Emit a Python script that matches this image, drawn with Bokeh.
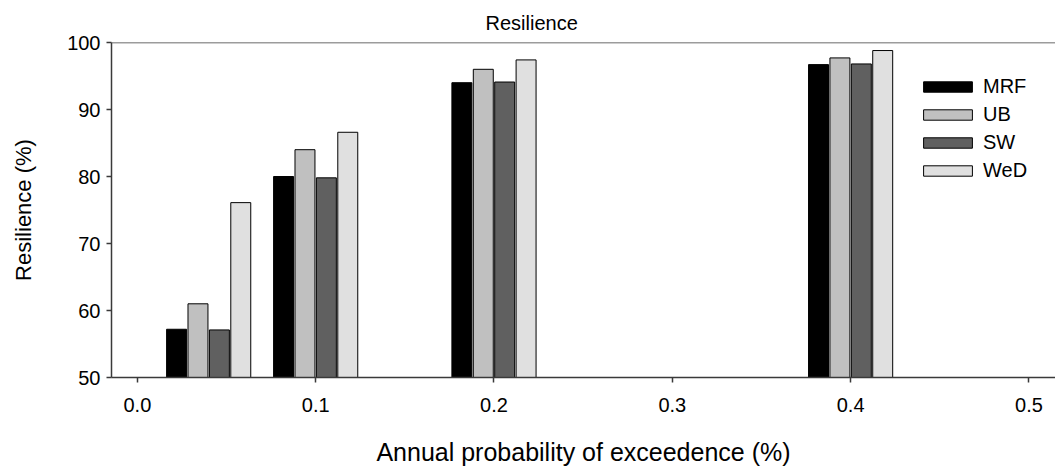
from bokeh.plotting import figure
from bokeh.models import Range1d, FixedTicker, PrintfTickFormatter, Span, ColumnDataSource
from bokeh.embed import file_html
from bokeh.resources import INLINE
from bokeh.transform import dodge

# ---- data ----
probs = [0.04, 0.1, 0.2, 0.4]
mrf = [57.2, 80.0, 94.0, 96.7]
ub = [61.0, 84.0, 96.0, 97.7]
sw = [57.1, 79.8, 94.1, 96.8]
wed = [76.1, 86.6, 97.4, 98.8]
series = ["MRF", "UB", "SW", "WeD"]
x_ticks = [0.0, 0.1, 0.2, 0.3, 0.4, 0.5]
y_ticks = [50, 60, 70, 80, 90, 100]

colors = ["#000000", "#c0c0c0", "#606060", "#e0e0e0"]
FONT = "Liberation Sans"
AXIS_COLOR = "#3a3a3a"

src = ColumnDataSource(dict(x=probs, MRF=mrf, UB=ub, SW=sw, WeD=wed))

p = figure(frame_width=944, frame_height=335, min_border_left=111, min_border_top=42,
           min_border_bottom=90, min_border_right=0,
           x_range=Range1d(-0.0145, 0.5149), y_range=Range1d(50, 100),
           output_backend="svg", toolbar_location=None, title="Resilience")

pitch = 0.012
bw = 0.0112
offsets = [-1.5 * pitch, -0.5 * pitch, 0.5 * pitch, 1.5 * pitch]
for name, col, off in zip(series, colors, offsets):
    p.vbar(x=dodge("x", off, range=p.x_range), top=name, bottom=50, width=bw, source=src,
           fill_color=col, line_color="#000000", line_width=1, legend_label=name)

p.add_layout(Span(location=100, dimension="width", line_color=AXIS_COLOR, line_width=1.5))

p.outline_line_color = None
p.grid.visible = False
p.background_fill_color = "white"
p.border_fill_color = "white"

p.title.text_font = FONT
p.title.text_font_size = "20px"
p.title.text_font_style = "normal"
p.title.text_color = "#000000"
p.title.align = "left"
p.title.offset = 374
p.title.standoff = 17

for ax in (p.xaxis[0], p.yaxis[0]):
    ax.axis_line_color = AXIS_COLOR
    ax.axis_line_width = 1.5
    ax.major_tick_line_color = AXIS_COLOR
    ax.major_tick_line_width = 1.5
    ax.major_tick_out = 5
    ax.major_tick_in = 0
    ax.minor_tick_line_color = None
    ax.major_label_text_font = FONT
    ax.major_label_text_font_size = "20px"
    ax.major_label_text_color = "#000000"
    ax.axis_label_text_font = FONT
    ax.axis_label_text_font_style = "normal"
    ax.axis_label_text_color = "#000000"

p.xaxis.ticker = FixedTicker(ticks=x_ticks)
p.xaxis.formatter = PrintfTickFormatter(format="%.1f")
p.xaxis.major_label_standoff = 15
p.xaxis.axis_label = "Annual probability of exceedence (%)"
p.xaxis.axis_label_text_font_size = "25px"
p.xaxis.axis_label_standoff = 23

p.yaxis.ticker = FixedTicker(ticks=y_ticks)
p.yaxis.major_label_standoff = 6
p.yaxis.axis_label = "Resilience (%)"
p.yaxis.axis_label_text_font_size = "22px"
p.yaxis.axis_label_standoff = 28

lg = p.legend[0]
lg.location = (806, 195)
lg.border_line_color = None
lg.background_fill_alpha = 0
lg.padding = 0
lg.margin = 0
lg.glyph_width = 61
lg.glyph_height = 13
lg.label_height = 23
lg.spacing = 5
lg.label_standoff = 5
lg.label_text_font = FONT
lg.label_text_font_size = "20px"
lg.label_text_color = "#000000"

open("out.html", "w").write(file_html(p, INLINE))
